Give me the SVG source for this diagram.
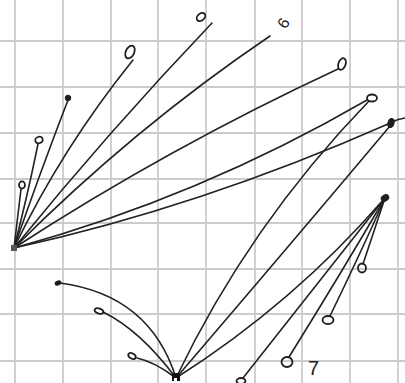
<svg xmlns="http://www.w3.org/2000/svg" width="405" height="383" viewBox="0 0 405 383">
<style>
.grid line{stroke:#cbcbcb;stroke-width:1.8}
.c path{fill:none;stroke:#222;stroke-width:1.6;stroke-linecap:round}
.m{fill:none;stroke:#1e1e1e;stroke-width:1.8}
.f{fill:#1e1e1e;stroke:#1e1e1e;stroke-width:1}
.t{font-family:"Liberation Sans",Arial,sans-serif;fill:#1e1e1e}
</style>
<rect width="405" height="383" fill="#fff"/>
<g class="grid">
<line x1="15" y1="0" x2="15" y2="383"/><line x1="63" y1="0" x2="63" y2="383"/><line x1="111" y1="0" x2="111" y2="383"/><line x1="158" y1="0" x2="158" y2="383"/><line x1="206" y1="0" x2="206" y2="383"/><line x1="255" y1="0" x2="255" y2="383"/><line x1="302" y1="0" x2="302" y2="383"/><line x1="350" y1="0" x2="350" y2="383"/><line x1="398" y1="0" x2="398" y2="383"/>
<line x1="0" y1="41" x2="405" y2="41"/><line x1="0" y1="87" x2="405" y2="87"/><line x1="0" y1="133" x2="405" y2="133"/><line x1="0" y1="179" x2="405" y2="179"/><line x1="0" y1="223" x2="405" y2="223"/><line x1="0" y1="269" x2="405" y2="269"/><line x1="0" y1="314" x2="405" y2="314"/><line x1="0" y1="361" x2="405" y2="361"/>
</g>
<g class="c" id="connectors">
<path d="M14,248 L21,189"/>
<path d="M14,248 Q27,198 38,144"/>
<path d="M14,248 Q38,178 68,100"/>
<path d="M14,248 Q62,148 133,60"/>
<path d="M14,248 Q108,132 212,23"/>
<path d="M14,248 Q134,128 270,36"/>
<path d="M14,248 Q168,148 338,69"/>
<path d="M14,248 Q200,197 367,100"/>
<path d="M14,248 Q200,207 388,124"/>
<path d="M176,378 Q249,225 369,101"/>
<path d="M176,378 Q290,245 390,126"/>
<path d="M176,378 Q294,303 384,199"/>
<path d="M176,378 Q150,295 60,283"/>
<path d="M176,378 Q140,330 103,312"/>
<path d="M176,378 Q155,362 137,358"/>
<path d="M385,198 L363,264"/>
<path d="M385,198 Q362,250 330,316"/>
<path d="M385,198 Q340,275 289,357"/>
<path d="M385,198 L243,378"/>
<path d="M392,122 Q398,119 405,118"/>
</g>
<g id="hubA"><rect x="11" y="245" width="6" height="6" fill="#555"/></g>
<g id="hubB"><rect x="172" y="373" width="8" height="8" fill="#111"/><rect x="174" y="378" width="3" height="3" fill="#fff"/></g>
<g id="hubC"><ellipse cx="385" cy="198" rx="4" ry="3" transform="rotate(-30 385 198)" class="f"/></g>
<g id="n1"><ellipse class="m" cx="22" cy="185" rx="3" ry="3.6"/></g>
<g id="n2"><ellipse class="m" cx="39" cy="140" rx="3.8" ry="3.2" transform="rotate(-20 39 140)"/></g>
<g id="n3"><circle class="f" cx="68" cy="98" r="2.8"/></g>
<g id="n4"><ellipse class="m" cx="130" cy="52" rx="4.2" ry="6.8" transform="rotate(25 130 52)"/></g>
<g id="n5"><ellipse class="m" cx="201" cy="17" rx="4.8" ry="3.4" transform="rotate(-40 201 17)"/></g>
<g id="n6"><text class="t" font-size="16" text-anchor="middle" transform="translate(283 23) rotate(-60)" y="6">6</text></g>
<g id="n7"><ellipse class="m" cx="342" cy="64" rx="3.6" ry="6" transform="rotate(20 342 64)"/></g>
<g id="n8"><ellipse class="m" cx="372" cy="98" rx="5" ry="3.5"/></g>
<g id="n9"><ellipse class="f" cx="391" cy="123" rx="3" ry="4.5" transform="rotate(20 391 123)"/></g>
<g id="n10"><ellipse class="f" cx="58" cy="283" rx="3" ry="2" transform="rotate(-20 58 283)"/></g>
<g id="n11"><ellipse class="m" cx="99" cy="311" rx="4.5" ry="2.5" transform="rotate(20 99 311)"/></g>
<g id="n12"><ellipse class="m" cx="132" cy="356" rx="4" ry="2.5" transform="rotate(30 132 356)"/></g>
<g id="n13"><ellipse class="m" cx="362" cy="268" rx="4" ry="4.5"/></g>
<g id="n14"><ellipse class="m" cx="328" cy="320" rx="5.5" ry="4"/></g>
<g id="n15"><ellipse class="m" cx="287" cy="362" rx="5.5" ry="5"/><text class="t" x="308" y="375" font-size="20">7</text></g>
<g id="n16"><ellipse class="m" cx="241" cy="381" rx="4.5" ry="3"/></g>
</svg>
